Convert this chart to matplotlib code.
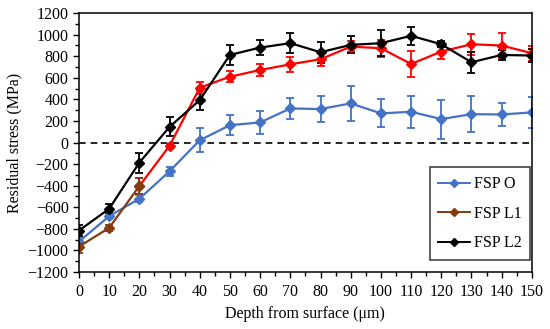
import matplotlib.pyplot as plt
from matplotlib.lines import Line2D

plt.rcParams['font.family'] = ['Liberation Serif', 'DejaVu Serif']

depth = [0, 10, 20, 30, 40, 50, 60, 70, 80, 90, 100, 110, 120, 130, 140, 150]

fsp_o = [-918, -683, -521, -267, 21, 161, 186, 316, 310, 363, 270, 285, 217, 263, 260, 279]
fsp_o_err = [30, 30, 30, 40, 112, 95, 105, 100, 122, 164, 130, 150, 181, 170, 107, 143]

fsp_l1 = [-965, -791, -403, -31, 508, 610, 672, 725, 772, 889, 874, 728, 843, 911, 899, 828]
fsp_l1_err = [60, 25, 78, 20, 54, 50, 57, 67, 67, 51, 78, 124, 70, 96, 116, 71]

fsp_l2 = [-816, -614, -186, 145, 393, 812, 880, 921, 837, 905, 921, 989, 911, 744, 812, 806]
fsp_l2_err = [50, 40, 93, 87, 96, 93, 73, 90, 98, 78, 121, 84, 28, 96, 50, 60]

labels = ['FSP O', 'FSP L1', 'FSP L2']

blue = '#4472C4'
red = '#FF0000'
brown = '#843C0C'

fig = plt.figure(figsize=(5.5, 3.29), dpi=100)
ax = fig.add_axes([0.1436, 0.1733, 0.8234, 0.787])

ax.plot([0, 150], [0, 0], color='black', ls='--', lw=1.2, dashes=(4, 3), zorder=1)

kw = dict(marker='D', ms=5, lw=1.6, capsize=3, elinewidth=1.3, capthick=1.3)

ax.errorbar(depth, fsp_o, yerr=fsp_o_err, color=blue, **kw)

# L1: first points drawn brown, the rest red
ax.errorbar(depth[2:], fsp_l1[2:], yerr=fsp_l1_err[2:], color=red, **kw)
ax.errorbar(depth[:3], fsp_l1[:3], yerr=fsp_l1_err[:3], color=brown, **kw)

ax.errorbar(depth, fsp_l2, yerr=fsp_l2_err, color='black', **kw)

ax.set_xlim(0, 150)
ax.set_ylim(-1200, 1200)
ax.set_xticks(range(0, 151, 10))
ax.set_xticks(range(0, 151, 5), minor=True)
ax.set_yticks(range(-1200, 1201, 200))
ax.set_yticks(range(-1200, 1201, 100), minor=True)
ax.tick_params(which='both', direction='out', labelsize=11.5, width=1)
ax.tick_params(which='major', length=4)
ax.tick_params(which='minor', length=3)
ax.tick_params(axis='x', pad=5)
for s in ax.spines.values():
    s.set_linewidth(1.1)

ax.set_xlabel('Depth from surface (μm)', fontsize=11.5)
ax.set_ylabel('Residual stress (MPa)', fontsize=11.5)

handles = [Line2D([], [], color=c, marker='D', ms=4, lw=1.4) for c in [blue, brown, 'black']]
leg = ax.legend(handles, labels, loc='lower right', bbox_to_anchor=(0.996, 0.046),
                borderaxespad=0, fontsize=11.5, frameon=True, fancybox=False,
                edgecolor='black', handlelength=2.0, handletextpad=0.2,
                labelspacing=0.85, borderpad=0.55)
leg.get_frame().set_linewidth(1.1)

fig.savefig('out.png', dpi=100)
